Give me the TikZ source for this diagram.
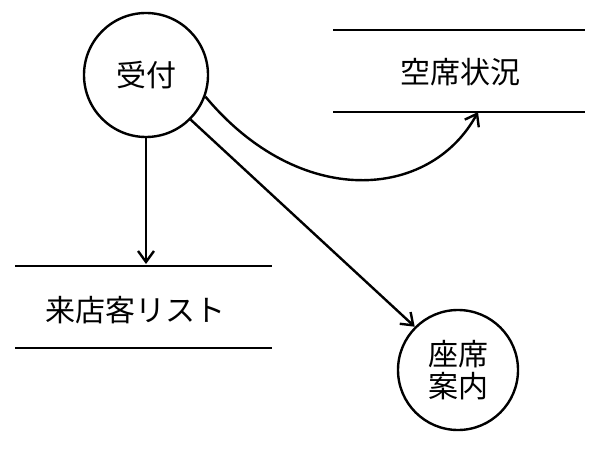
\documentclass[tikz,border=0pt]{standalone}
\usepackage{fontspec}
\newfontfamily\cjk{Noto Sans CJK JP}
\usetikzlibrary{arrows.meta}
\begin{document}
\begin{tikzpicture}[x=1pt,y=-1pt,
  proc/.style={circle,draw,line width=2.4pt,minimum size=124pt,inner sep=0pt,font=\cjk\fontsize{30}{34}\selectfont,align=center},
  store/.style={font=\cjk\fontsize{30}{34}\selectfont},
  sline/.style={line width=2.4pt},
  flow/.style={line width=2.4pt,-{Straight Barb[length=11pt,width=16pt,line width=2.4pt]}}]
\useasboundingbox (0,0) rectangle (601,457);
\node[proc] (uke) at (146,75) {受付};
\node[proc,minimum size=120pt] (ann) at (458,370) {座席\\[-2pt]案内};
\node[store] (kuu) at (460,72) {空席状況};
\node[store] (rai) at (135,310) {来店客リスト};
\coordinate (k1) at (333,30); \coordinate (k2) at (585,30);
\coordinate (k3) at (333,112); \coordinate (k4) at (585,112);
\coordinate (r1) at (15,266); \coordinate (r2) at (272,266);
\coordinate (r3) at (15,348); \coordinate (r4) at (272,348);
\draw[sline] (k1) -- (k2); \draw[sline] (k3) -- (k4);
\draw[sline] (r1) -- (r2); \draw[sline] (r3) -- (r4);
\coordinate (kin) at (478,112);
\coordinate (rin) at (146,264);
\draw[flow] (uke.south) -- (rin);
\draw[flow] (uke.-20) .. controls (300,210) and (430,200) .. (kin);
\draw[flow] (uke.-45) -- (ann.135);
\end{tikzpicture}
\end{document}
